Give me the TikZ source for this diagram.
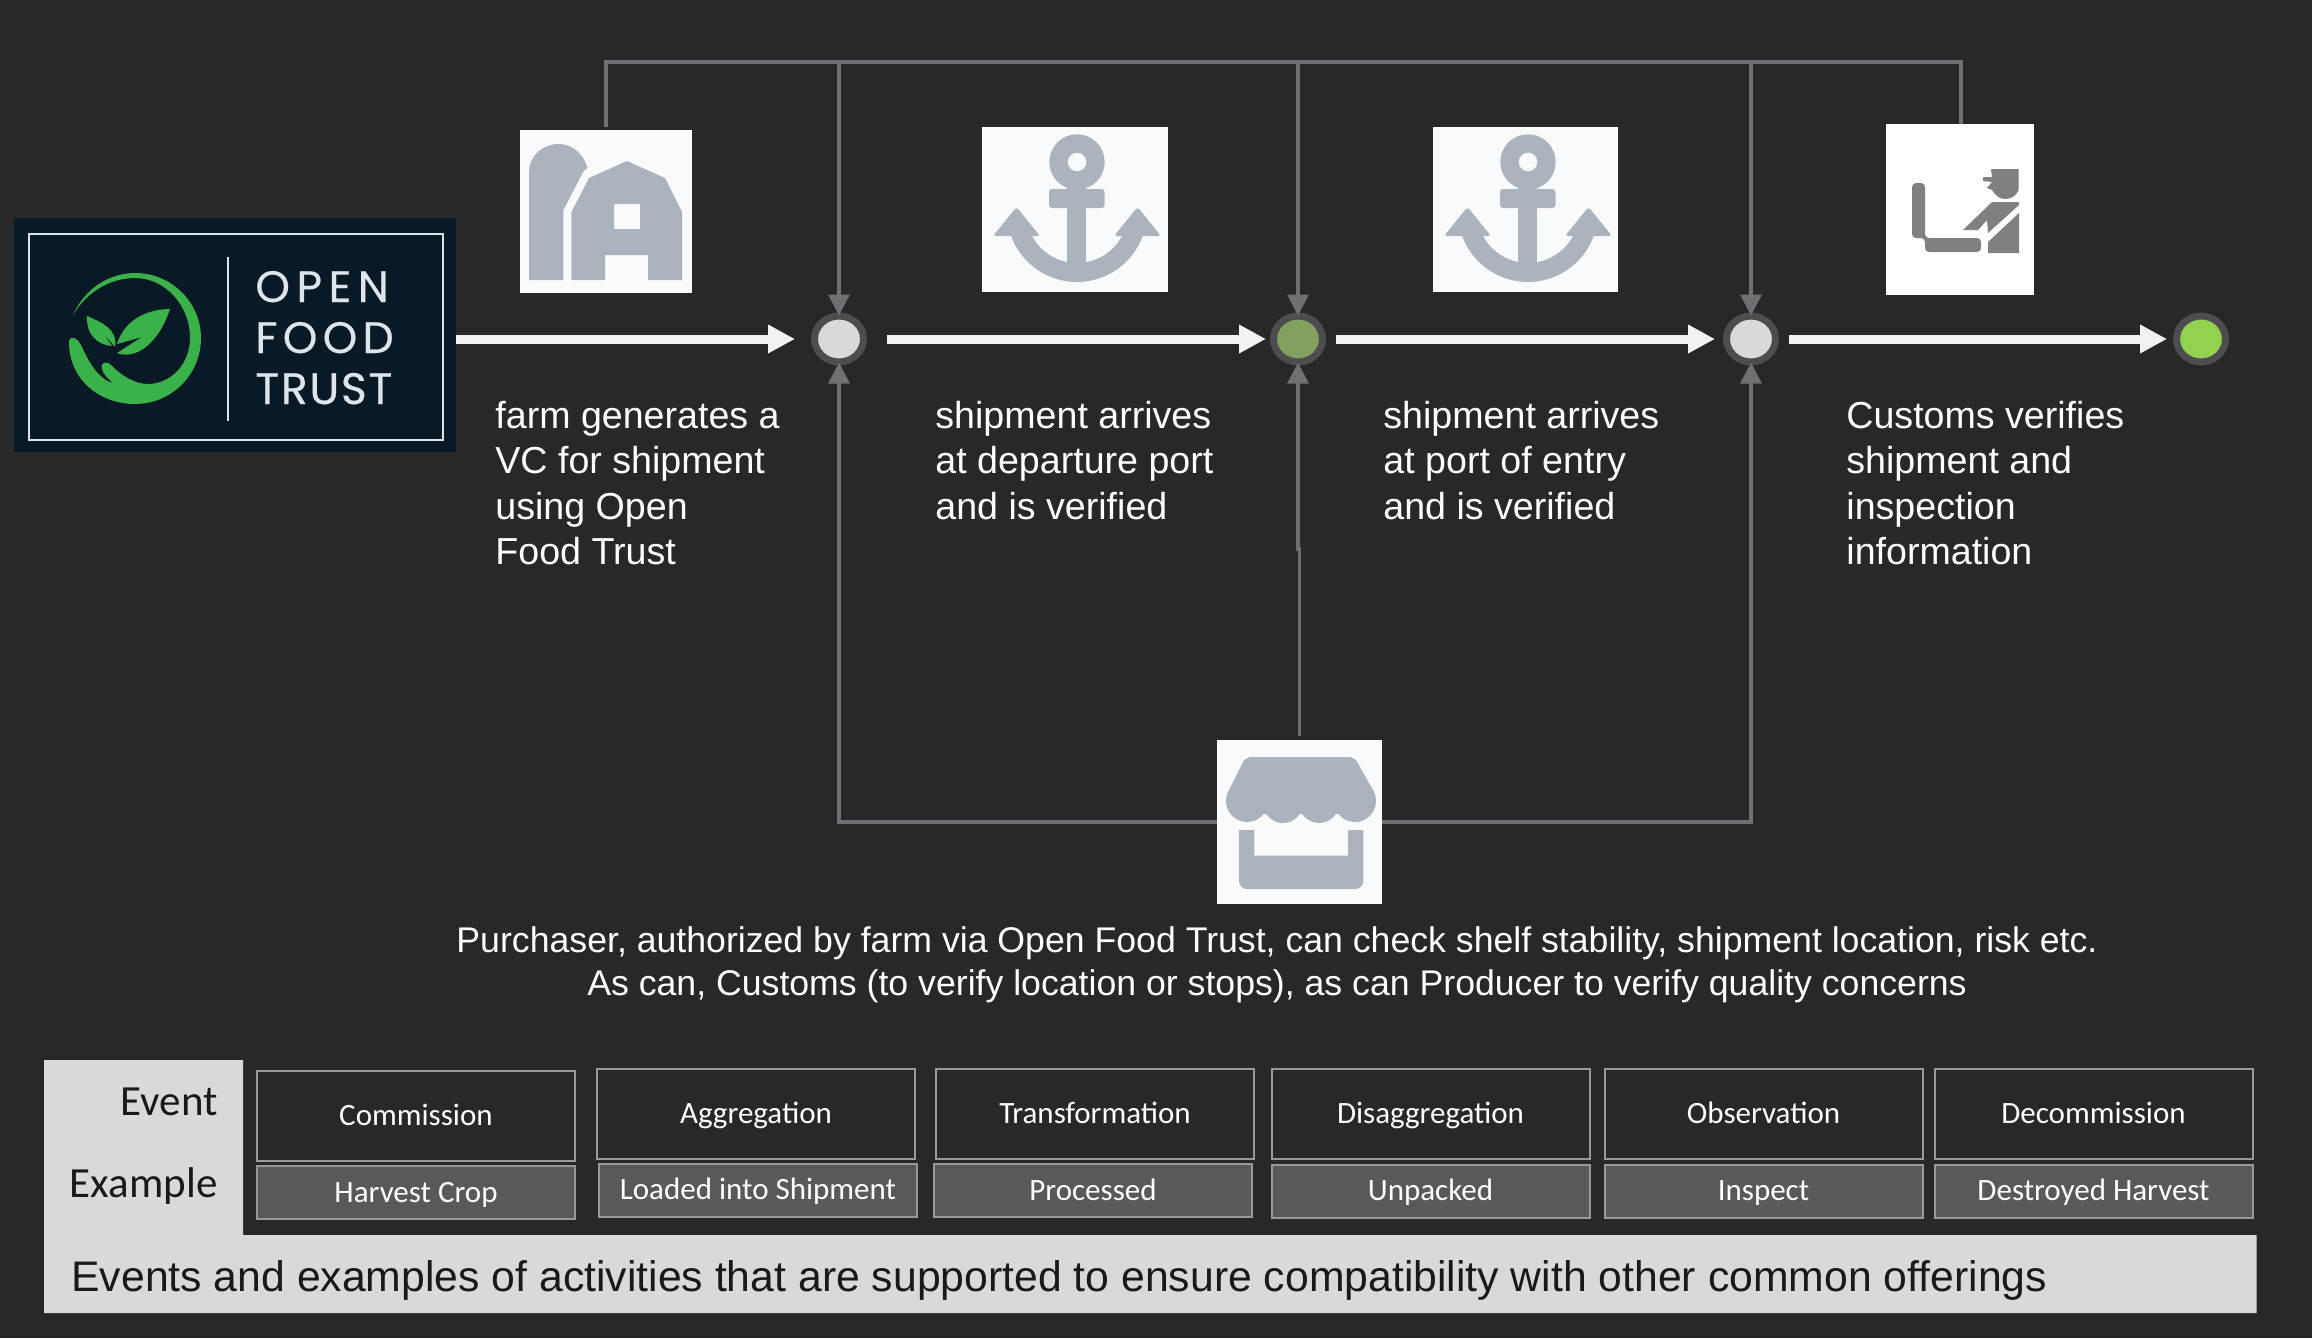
\documentclass[tikz,border=0pt]{standalone}
\usepackage{fontspec}
\usetikzlibrary{arrows.meta,shapes.geometric}
\setmainfont{Liberation Sans}
\newfontfamily\calfont{Carlito}
\newfontfamily\openfont[LetterSpace=15,FakeBold=0.4]{Poppins}
\newfontfamily\foodfont[LetterSpace=12,FakeBold=0.4]{Poppins}
\newfontfamily\trustfont[LetterSpace=4,FakeBold=0.6]{Poppins}
\definecolor{bgdark}{HTML}{282828}
\definecolor{panel}{HTML}{D9D9D9}
\definecolor{iconbox}{HTML}{F8FAFC}
\definecolor{icongray}{HTML}{ABB4BD}
\definecolor{linkgray}{HTML}{6F6F74}
\definecolor{ringgray}{HTML}{4D4D4F}
\definecolor{logonavy}{HTML}{0A1926}
\definecolor{logoline}{HTML}{DDE4EC}
\definecolor{logogreen}{HTML}{3BB14A}
\definecolor{oliveDot}{HTML}{84A05F}
\definecolor{limeDot}{HTML}{92D050}
\tikzset{
  flow/.style={draw=white!95!black, line width=4.5pt, -{Triangle[length=13.5pt,width=13.5pt]}},
  link/.style={draw=linkgray, line width=1.7pt},
  linkto/.style={link, shorten >=-1.5pt, -{Triangle[length=10.5pt,width=10.5pt]}},
  stepdot/.style={ellipse, draw=ringgray, line width=3.5pt, minimum width=24.5pt, minimum height=23pt, inner sep=0pt},
  picbox/.style={fill=iconbox, inner sep=0pt},
  stepnote/.style={text=white, align=left, anchor=north west, inner sep=0pt, font=\fontsize{18.8}{22.6}\selectfont},
  eventbox/.style={draw=white!60!black, line width=1pt, fill=bgdark, text=white, minimum width=159pt, minimum height=45pt, inner sep=0pt,
    text height=12pt, text depth=2.2pt, font=\calfont\fontsize{15.5}{18}\selectfont},
  examplebox/.style={eventbox, fill=white!35!black, minimum height=26.5pt},
  rowname/.style={anchor=base east, inner sep=0pt, text=black!90, font=\calfont\fontsize{21.5}{24}\selectfont},
  logoword/.style={anchor=base west, inner sep=0pt, text=logoline}
}
\newcommand{\anchoricon}[1]{%
  \begin{scope}[shift={(#1,0)}, fill=icongray]
    \fill[even odd rule] (1077,162) circle[radius=27.7] (1077,162) circle[radius=9.4];
    \fill[rounded corners=1.5pt] (1049,189) rectangle (1104.5,208);
    \fill (1067,185) rectangle (1086,270);
    \fill (1143,235) arc[start angle=19.2, end angle=160.8, radius=70] -- (1031.5,235)
      arc[start angle=153.2, end angle=26.8, radius=51] -- cycle;
    \fill[rounded corners=1.5pt] (1016.5,207) -- (993,236) -- (1040,236) -- cycle;
    \fill[rounded corners=1.5pt] (1137.5,207) -- (1114,236) -- (1161,236) -- cycle;
  \end{scope}}
\begin{document}
\begin{tikzpicture}[x=0.5pt,y=-0.5pt]
\fill[bgdark] (0,0) rectangle (2312,1338);

% logo
\node[fill=logonavy, minimum width=221pt, minimum height=117pt, inner sep=0pt] (logo) at (235,335) {};
\draw[logoline, line width=1pt] (28.5,233.5) rectangle (442.5,440);
\draw[logoline, line width=1pt] (228,257) -- (228,421);
\fill[logogreen] (73,315) .. controls (88,290) and (112,278) .. (135,278)
  .. controls (165,278) and (190,305) .. (190,338) .. controls (190,365) and (170,384) .. (148,384)
  .. controls (135,384) and (122,376) .. (112,366) .. controls (107,360) and (100,362) .. (102,369)
  .. controls (103,374) and (108,379) .. (113,383) .. controls (100,380) and (90,365) .. (82,347)
  .. controls (78,338) and (70,334) .. (69,342) .. controls (69,380) and (100,404) .. (135,404)
  .. controls (172,404) and (201,374) .. (201,338) .. controls (201,303) and (172,273) .. (135,273)
  .. controls (110,273) and (85,288) .. (73,315) -- cycle;
\fill[logogreen] (170,309) .. controls (150,309) and (125,318) .. (117,344) -- (142,337) -- (117,353)
  .. controls (135,360) and (158,345) .. (170,309) -- cycle;
\fill[logogreen] (87,316) .. controls (100,322) and (118,328) .. (115,347) -- (103,333) -- (112,346)
  .. controls (98,345) and (86,335) .. (87,316) -- cycle;
\node[logoword, font=\openfont\fontsize{22}{24}\selectfont] (wordopen) at (255,302) {OPEN};
\node[logoword, font=\foodfont\fontsize{22}{24}\selectfont] (wordfood) at (255,353) {FOOD};
\node[logoword, font=\trustfont\fontsize{22}{24}\selectfont] (wordtrust) at (255,404) {TRUST};

% pictures
\node[picbox, minimum width=86pt, minimum height=81.5pt] (barnbox) at (606,211.5) {};
\node[picbox, minimum width=93pt, minimum height=82.5pt] (portbox) at (1075,209.5) {};
\node[picbox, minimum width=92.5pt, minimum height=82.5pt] (entrybox) at (1525.5,209.5) {};
\node[picbox, fill=white, minimum width=74pt, minimum height=85.5pt] (customsbox) at (1960,209.5) {};
\node[picbox, minimum width=82.5pt, minimum height=82pt] (storebox) at (1299.5,822) {};

% barn
\fill[icongray] (529,280) -- (529,173) .. controls (529,155) and (543,144) .. (559,144)
  .. controls (573,144) and (584,155) .. (587.5,168) .. controls (584,170) and (582,173) .. (581,176)
  -- (563.4,210) -- (563.4,280) -- cycle;
\fill[icongray, even odd rule] (571.4,280) -- (571.4,212) -- (589,178) -- (627,161) -- (665,178) -- (682,212)
  -- (682,280) -- (648,280) -- (648,255) -- (605,255) -- (605,280) -- cycle
  (614,204) rectangle (640,229);
\anchoricon{0}
\anchoricon{451}
% customs
\fill[black!50] (1991,169) -- (2018.7,169) -- (2018.7,190) .. controls (2016,196) and (2011,199) .. (2005,199)
  .. controls (1999,199) and (1995,195) .. (1992,190) -- (1987,188) -- (1992,182) -- (1983,181) -- (1983,177) -- (1992,177) -- cycle;
\fill[black!50] (1963,230) -- (1992,202) -- (2019,202) -- (2019,205) -- (1988,233) -- (1987,220) -- (1978,230) -- cycle;
\fill[black!50] (2019,213) -- (1988,242) -- (1988,253) -- (2019,253) -- cycle;
\fill[black!50, rounded corners=2pt] (1912,183) -- (1925,183) -- (1925,238) -- (1981,238) -- (1981,252) -- (1925,252)
  -- (1925,238) -- (1912,238) -- cycle;
% store
\fill[icongray] (1250,757) -- (1350,757) -- (1356,760) -- (1373,790) -- (1373,805) -- (1229,805) -- (1229,790) -- (1244,760) -- cycle;
\fill[icongray] (1247,805) rectangle (1355,814);
\foreach \cx/\rr/\cy in {1247/21/801, 1283/20/803, 1319/20/803, 1355/21/801}
  \fill[icongray] (\cx,\cy) circle[radius=\rr];
\fill[icongray] (1239,830) -- (1254.3,830) -- (1254.3,855.7) -- (1348,855.7) -- (1348,830) -- (1363.3,830)
  [rounded corners=4pt] -- (1363.3,889) -- (1239,889) [sharp corners] -- cycle;

% steps
\node[stepdot, fill=panel] (dota) at (839,339) {};
\node[stepdot, fill=oliveDot] (dotb) at (1298,339) {};
\node[stepdot, fill=panel] (dotc) at (1751,339) {};
\node[stepdot, fill=limeDot] (dotd) at (2201,339) {};

\draw[flow, shorten >=8pt] (logo.east |- dota.west) -- (dota.west);
\draw[flow, shorten <=10pt, shorten >=2pt] (dota.east) -- (dotb.west);
\draw[flow, shorten <=5pt, shorten >=4pt] (dotb.east) -- (dotc.west);
\draw[flow, shorten <=5pt, shorten >=3pt] (dotc.east) -- (dotd.west);

% upper rail
\coordinate (railw) at (606,62);
\coordinate (raile) at (1961,62);
\draw[link, shorten <=1.5pt] (barnbox.north) -- (railw) -- (raile) -- (customsbox.north -| raile);
\foreach \dd in {dota,dotb,dotc}
  \draw[linkto] (\dd |- railw) -- (\dd.north);

% lower rail
\coordinate (joga) at (1298,549);
\draw[linkto] (storebox.west) -| (dota.south);
\draw[linkto] (storebox.east) -| (dotc.south);
\draw[linkto, shorten <=2pt] (storebox.north) |- (joga) -- (dotb.south);

% texts
\node[stepnote] (notea) at (495,401) {farm generates a\\VC for shipment\\using Open\\Food Trust};
\node[stepnote] (noteb) at (935,401) {shipment arrives\\at departure port\\and is verified};
\node[stepnote] (notec) at (1383,401) {shipment arrives\\at port of entry\\and is verified};
\node[stepnote] (noted) at (1846,401) {Customs verifies\\shipment and\\inspection\\information};
\node[stepnote, anchor=north, align=center, font=\fontsize{17.83}{21.5}\selectfont] (buyernote) at (1277,926)
  {Purchaser, authorized by farm via Open Food Trust, can check shelf stability, shipment location, risk etc.\\
   As can, Customs (to verify location or stops), as can Producer to verify quality concerns};

% table
\fill[panel] (44,1060) -- (243,1060) -- (243,1235) -- (2256.5,1235) -- (2256.5,1313) -- (44,1313) -- cycle;
\node[rowname] (eventname) at (218,1115) {Event};
\node[rowname] (examplename) at (218,1197) {Example};
\foreach \nn/\cx/\cy/\word in {ea/416/1116/Commission, eb/756/1114/Aggregation, ec/1095/1113.5/Transformation,
    ed/1430.5/1114/Disaggregation, ee/1763.5/1114/Observation, ef/2093.5/1114/Decommission}
  \node[eventbox] (\nn) at (\cx,\cy) {\word};
\foreach \nn/\cx/\cy/\word in {xa/416/1192.5/Harvest Crop, xb/758/1190/Loaded into Shipment, xc/1093/1190.5/Processed,
    xd/1430.5/1191/Unpacked, xe/1763.5/1191/Inspect, xf/2093.5/1191/Destroyed Harvest}
  \node[examplebox] (\nn) at (\cx,\cy) {\word};
\node[anchor=west, inner sep=0pt, text=black!90, font=\fontsize{21.37}{24}\selectfont] (tablenote) at (71,1280)
  {Events and examples of activities that are supported to ensure compatibility with other common offerings};
\end{tikzpicture}
\end{document}
